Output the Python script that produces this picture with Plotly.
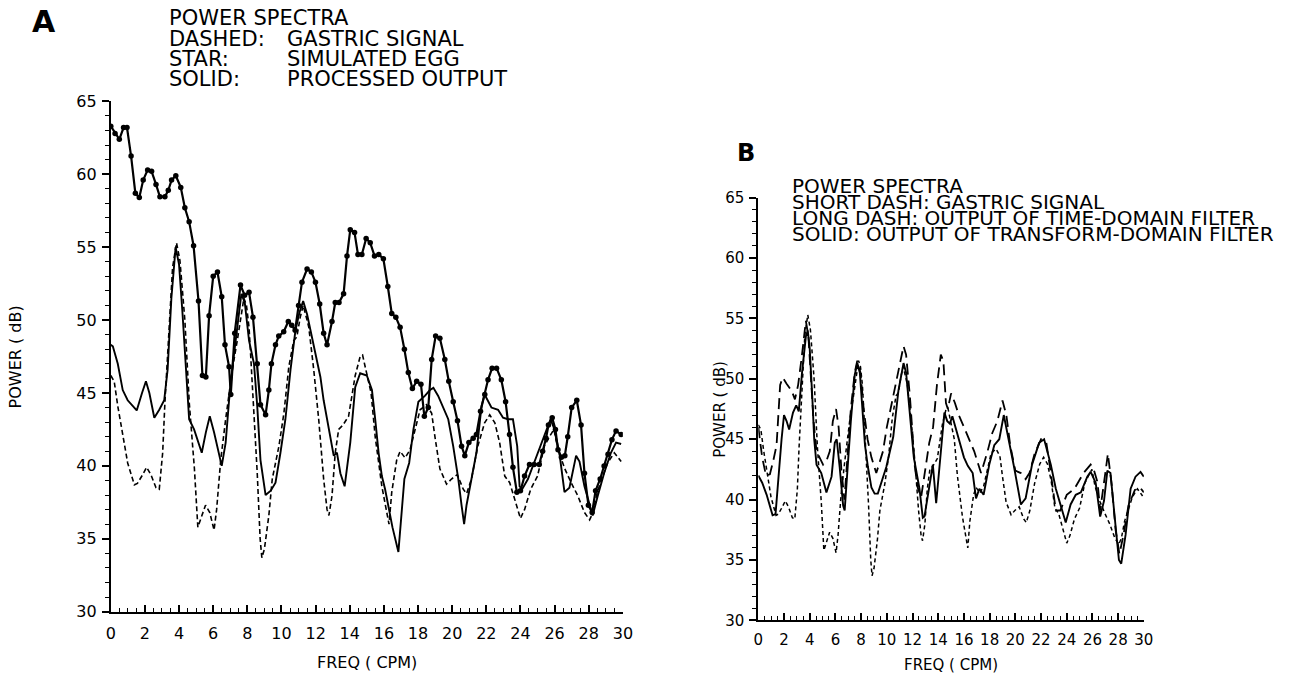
import plotly.graph_objects as go

W, H = 1315, 681

# ---------------- Panel A data ----------------
a_gastric_x = [0.0, 0.2, 0.41, 0.7, 0.99, 1.38, 1.56, 1.87, 2.1, 2.35, 2.65, 2.84, 3.04, 3.17, 3.42, 3.62,
               3.85, 4.05, 4.2, 4.34, 4.6, 4.9, 5.1, 5.3, 5.55, 5.8, 6.05, 6.2, 6.44, 6.73, 7.12, 7.41, 7.6,
               7.8, 7.95, 8.1, 8.19, 8.39, 8.58, 8.75, 8.85, 9.0, 9.26, 9.46, 9.85, 10.14, 10.43, 10.72, 10.9,
               11.1, 11.27, 11.5, 11.6, 11.89, 12.18, 12.47, 12.67, 12.78, 12.96, 13.15, 13.35, 13.6, 13.93,
               14.32, 14.61, 14.75, 14.9, 15.25, 15.49, 15.88, 16.17, 16.3, 16.46, 16.75, 16.95, 17.24, 17.53,
               17.82, 18.12, 18.5, 18.8, 18.99, 19.28, 19.67, 19.96, 20.3, 20.65, 20.85, 21.13, 21.5, 21.9,
               22.2, 22.5, 22.78, 23.08, 23.37, 23.7, 24.0, 24.24, 24.6, 25.0, 25.4, 25.7, 25.96, 26.2, 26.6,
               26.97, 27.36, 27.75, 28.05, 28.25, 28.5, 29.1, 29.5, 29.9]
a_gastric_y = [46.2, 45.8, 44.1, 42.0, 40.2, 38.7, 38.8, 39.4, 39.9, 39.4, 38.5, 38.4, 40.9, 44.3, 49.1, 53.6,
               55.3, 54.1, 52.0, 50.0, 44.3, 39.8, 35.8, 36.5, 37.3, 36.8, 35.6, 37.0, 40.4, 43.2, 46.6, 48.6, 50.0,
               51.5, 51.0, 49.5, 47.7, 43.6, 39.5, 35.0, 33.7, 34.3, 36.6, 39.1, 41.35, 43.6, 46.8, 48.6, 48.85,
               50.2, 51.0, 50.0, 49.5, 46.6, 43.2, 39.1, 37.0, 36.6, 37.95, 40.9, 42.5, 42.8, 43.4,
               46.2, 47.5, 47.6, 46.8, 45.0, 42.0, 38.6, 36.8, 36.0, 38.2, 40.4, 41.0, 40.55, 41.1,
               42.5, 43.85, 44.2, 43.6, 42.0, 39.8, 38.75, 39.1, 39.4, 38.4, 38.1, 39.1, 41.35, 42.95,
               43.5, 42.95, 41.6, 39.3, 38.85, 37.5, 36.4, 37.0, 38.4, 39.3, 41.35, 42.0, 42.5, 41.1, 39.8,
               38.85, 37.95, 36.8, 36.3, 36.8, 38.2, 40.2, 40.9, 40.3]

a_egg_x = [0.0, 0.25, 0.5, 0.75, 0.95, 1.19, 1.44, 1.67, 1.9, 2.16, 2.39, 2.65, 2.88, 3.17, 3.37, 3.56, 3.81,
           4.1, 4.34, 4.59, 4.85, 5.14, 5.37, 5.57, 5.76, 6.0, 6.25, 6.5, 6.69, 6.93, 7.03, 7.26, 7.6, 7.84,
           8.1, 8.33, 8.58, 8.77, 9.07, 9.26, 9.41, 9.65, 9.84, 10.13, 10.4, 10.6, 10.8, 11.0, 11.2, 11.5,
           11.75, 11.99, 12.24, 12.47, 12.67, 12.96, 13.15, 13.37, 13.64, 13.84, 14.03, 14.28, 14.48, 14.71,
           14.96, 15.2, 15.45, 15.7, 15.97, 16.23, 16.46, 16.7, 16.95, 17.2, 17.43, 17.67, 17.92, 18.17,
           18.37, 18.6, 18.8, 19.03, 19.28, 19.57, 19.8, 20.06, 20.31, 20.55, 20.74, 20.98, 21.23, 21.42,
           21.66, 21.91, 22.1, 22.34, 22.6, 22.88, 23.13, 23.36, 23.56, 23.79, 24.0, 24.24, 24.53, 24.8,
           25.1, 25.3, 25.5, 25.64, 25.86, 26.05, 26.2, 26.4, 26.6, 26.77, 27.0, 27.3, 27.55, 27.75, 27.98,
           28.2, 28.4, 28.67, 28.9, 29.13, 29.36, 29.6, 29.9]
a_egg_y = [63.3, 62.8, 62.4, 63.2, 63.2, 61.25, 58.7, 58.4, 59.6, 60.3, 60.2, 59.3, 58.45, 58.45, 58.9, 59.6, 59.9,
           59.1, 57.7, 56.75, 55.1, 51.3, 46.2, 46.1, 50.3, 53.0, 53.3, 51.6, 48.3, 46.8, 44.9, 49.1, 52.4, 51.7,
           51.9, 50.2, 47.0, 44.2, 43.5, 45.2, 47.0, 48.3, 48.9, 49.2, 49.9, 49.65, 49.3, 51.0, 52.6, 53.5,
           53.3, 52.6, 51.1, 49.1, 48.3, 49.9, 51.2, 51.2, 51.8, 54.4, 56.2, 56.0, 54.5, 54.5,
           55.6, 55.3, 54.4, 54.5, 54.2, 52.3, 50.45, 50.2, 49.5, 48.0, 46.4, 45.3, 45.8, 45.6,
           43.4, 44.0, 47.3, 48.9, 48.75, 47.3, 45.8, 44.4, 43.1, 41.35, 40.7, 41.6, 41.9, 42.15,
           43.75, 44.9, 45.9, 46.7, 46.7, 45.9, 44.4, 42.15, 39.9, 38.2, 38.3, 39.3, 40.1, 40.1,
           40.1, 41.0, 41.9, 42.8, 43.3, 42.5, 41.1, 40.6, 40.7, 42.0, 44.0, 44.5, 42.8, 39.5, 37.3,
           36.8, 38.3, 39.1, 40.0, 40.8, 41.8, 42.4, 42.15]

a_output_x = [0.0, 0.12, 0.41, 0.7, 0.99, 1.28, 1.52, 1.83, 2.06, 2.26, 2.55, 2.84, 3.13, 3.33, 3.55, 3.8, 4.0,
              4.2, 4.4, 4.59, 4.88, 5.18, 5.33, 5.57, 5.8, 6.05, 6.34, 6.5, 6.73, 6.93, 7.15, 7.41, 7.65, 7.85,
              8.1, 8.39, 8.58, 8.77, 9.07, 9.37, 9.65, 9.94, 10.23, 10.53, 10.82, 11.05, 11.27, 11.5, 11.75,
              11.99, 12.28, 12.47, 12.77, 13.06, 13.25, 13.45, 13.7, 14.03, 14.32, 14.61, 15.0, 15.3, 15.49,
              15.69, 15.88, 16.07, 16.27, 16.5, 16.85, 17.0, 17.2, 17.48, 17.73, 18.02, 18.4, 18.7, 18.9, 19.18,
              19.48, 19.77, 20.06, 20.36, 20.55, 20.7, 20.84, 21.13, 21.42, 21.72, 21.9, 22.3, 22.69, 22.98,
              23.27, 23.56, 23.81, 23.95, 24.1, 24.44, 24.73, 25.12, 25.5, 25.76, 25.96, 26.28, 26.58, 26.87,
              27.26, 27.46, 27.75, 28.04, 28.23, 28.53, 28.9, 29.3, 29.6, 29.9]
a_output_y = [48.3, 48.2, 47.0, 45.2, 44.5, 44.1, 43.8, 45.0, 45.8, 45.0, 43.3, 43.85, 44.5, 46.6, 51.5, 55.0, 53.8,
              50.5, 47.0, 43.2, 42.5, 41.35, 40.9, 42.3, 43.4, 42.3, 40.9, 40.0, 41.6, 44.5, 47.0, 49.5, 51.8, 51.2,
              48.6, 47.0, 44.1, 40.4, 38.0, 38.3, 38.85, 40.9, 43.2, 46.6, 49.3, 50.5, 51.3, 50.4, 49.0,
              47.7, 46.1, 44.5, 42.5, 40.7, 40.9, 39.5, 38.6, 41.6, 45.4, 46.35, 46.2, 45.2, 43.2,
              40.9, 39.3, 38.4, 37.2, 35.8, 34.1, 36.5, 39.1, 40.2, 42.5, 44.4, 44.8, 45.2, 45.35, 44.8,
              44.0, 43.2, 41.35, 39.1, 37.3, 36.0, 37.3, 39.1, 40.9, 44.1, 44.9, 44.0, 43.85, 43.3,
              43.2, 43.2, 41.35, 38.6, 38.4, 39.1, 40.0, 41.1, 42.3, 43.2, 42.6, 40.9, 38.2, 38.5,
              40.7, 40.3, 38.6, 37.3, 36.6, 37.95, 39.5, 40.9, 41.6, 41.5]

# ---------------- Panel B data ----------------
b_gastric_x = a_gastric_x
b_gastric_y = a_gastric_y

b_time_x = [0.0, 0.3, 0.6, 0.9, 1.16, 1.42, 1.7, 1.9, 2.2, 2.6, 2.85, 3.1, 3.4, 3.7, 3.9, 4.1, 4.3, 4.53, 5.04,
            5.3, 5.56, 5.8, 6.05, 6.25, 6.47, 6.7, 6.9, 7.2, 7.5, 7.7, 7.95, 8.2, 8.5, 8.8, 9.18, 9.7, 10.0,
            10.5, 11.0, 11.3, 11.5, 11.8, 12.16, 12.4, 12.67, 13.06, 13.3, 13.6, 13.9, 14.2, 14.4, 14.6, 14.75,
            15.0, 15.3, 15.6, 16.0, 16.3, 16.8, 17.33, 17.84, 18.2, 18.6, 19.0, 19.3, 19.6, 20.0, 20.43, 20.8,
            21.1, 21.5, 22.0, 22.4, 22.76, 23.15, 23.5, 24.0, 24.6, 25.3, 25.86, 26.1, 26.4, 26.6, 27.0, 27.2,
            27.5, 27.8, 28.1, 28.4, 28.8, 29.3, 29.7, 30.0]
b_time_y = [46.0, 43.5, 42.0, 42.1, 43.2, 44.5, 49.5, 50.1, 49.6, 49.0, 48.3, 49.5, 52.0, 54.8, 53.5, 50.0, 46.5,
            44.0, 42.9, 43.2, 44.0, 46.5, 47.5, 46.0, 42.4, 40.0, 43.0, 47.5, 50.5, 51.5, 50.5, 47.5, 45.0, 43.5,
            42.2, 44.0, 46.0, 48.5, 51.0, 52.7, 52.0, 48.5, 42.9, 41.0, 40.2, 42.9, 44.7, 46.0, 49.5, 52.0, 51.5,
            48.0, 47.5, 48.8, 48.0, 47.0, 46.0, 45.2, 44.0, 42.2, 44.0, 45.5, 46.5, 48.2, 47.0, 44.5, 42.4, 42.2,
            41.7, 42.2, 43.8, 45.0, 44.8, 42.2, 39.1, 39.1, 40.4, 40.9, 42.2, 42.9, 42.5, 41.4, 39.1, 42.2, 43.8,
            41.2, 37.5, 35.5, 37.0, 39.5, 40.8, 41.0, 40.6]

b_transform_x = [0.0, 0.3, 0.65, 1.11, 1.34, 1.6, 1.81, 2.0, 2.2, 2.4, 2.7, 2.95, 3.15, 3.4, 3.7, 3.85, 4.0, 4.2,
                 4.35, 4.53, 4.9, 5.3, 5.7, 5.95, 6.1, 6.33, 6.6, 6.72, 6.9, 7.2, 7.5, 7.7, 7.9, 8.1, 8.3, 8.53,
                 8.8, 9.05, 9.3, 9.96, 10.5, 10.9, 11.3, 11.5, 11.8, 12.1, 12.54, 12.8, 12.93, 13.3, 13.58, 13.84,
                 14.1, 14.48, 14.7, 14.9, 15.1, 15.4, 15.7, 16.0, 16.3, 16.68, 16.94, 17.2, 17.53, 17.97, 18.36,
                 18.75, 19.1, 19.4, 19.9, 20.43, 20.8, 21.3, 21.85, 22.24, 22.76, 23.15, 23.53, 23.92, 24.3, 24.7,
                 25.1, 25.6, 25.86, 26.25, 26.6, 26.9, 27.16, 27.4, 27.8, 28.06, 28.24, 28.58, 28.97, 29.35,
                 29.74, 30.0]
b_transform_y = [42.0, 41.4, 40.4, 38.7, 38.8, 42.5, 45.0, 47.0, 46.5, 45.8, 47.2, 47.8, 47.3, 50.5, 53.5, 54.0,
                 52.5, 48.5, 45.0, 42.9, 42.2, 40.6, 41.9, 44.7, 45.0, 42.7, 39.5, 39.1, 42.0, 46.5, 50.3, 51.3,
                 50.5, 47.5, 44.5, 42.7, 41.0, 40.5, 40.5, 42.7, 45.2, 49.0, 51.3, 50.5, 47.0, 43.5, 40.9, 38.5,
                 38.6, 40.9, 42.9, 39.7, 42.9, 47.2, 46.5, 46.3, 46.9, 45.8, 44.8, 43.5, 42.8, 42.2, 40.1, 40.9,
                 40.4, 42.9, 44.5, 45.0, 47.0, 45.5, 42.7, 39.6, 40.1, 42.9, 44.7, 45.0, 42.9, 40.9, 39.6, 38.1,
                 39.6, 40.4, 40.6, 41.9, 42.3, 41.4, 38.6, 39.9, 42.4, 42.2, 37.8, 35.0, 34.7, 37.1, 40.9, 41.9,
                 42.3, 41.9]

x_ticks = list(range(0, 31, 2))
y_ticks = [30, 35, 40, 45, 50, 55, 60, 65]

A_TEXT_LABELS = ["DASHED:", "STAR:", "SOLID:"]
A_TEXT_VALUES = ["GASTRIC SIGNAL", "SIMULATED EGG", "PROCESSED OUTPUT"]
B_TEXT_LINES = ["POWER SPECTRA", "SHORT DASH: GASTRIC SIGNAL",
                "LONG DASH: OUTPUT OF TIME-DOMAIN FILTER",
                "SOLID: OUTPUT OF TRANSFORM-DOMAIN FILTER"]

FONT = "DejaVu Sans"


def px(x):
    return x / W


def py(y):
    return 1 - y / H


fig = go.Figure()

# Panel A traces
fig.add_trace(go.Scatter(x=a_gastric_x, y=a_gastric_y, mode="lines", xaxis="x", yaxis="y",
                         line=dict(color="black", width=1.6, dash="5px,3px"), showlegend=False))
fig.add_trace(go.Scatter(x=a_output_x, y=a_output_y, mode="lines", xaxis="x", yaxis="y",
                         line=dict(color="black", width=1.9), showlegend=False))
fig.add_trace(go.Scatter(x=a_egg_x, y=a_egg_y, mode="lines+markers", xaxis="x", yaxis="y",
                         line=dict(color="black", width=2.2),
                         marker=dict(color="black", size=5.5, symbol="circle"), showlegend=False))

# Panel B traces
fig.add_trace(go.Scatter(x=b_gastric_x, y=b_gastric_y, mode="lines", xaxis="x2", yaxis="y2",
                         line=dict(color="black", width=1.5, dash="4px,3px"), showlegend=False))
fig.add_trace(go.Scatter(x=b_time_x, y=b_time_y, mode="lines", xaxis="x2", yaxis="y2",
                         line=dict(color="black", width=1.8, dash="11px,6px"), showlegend=False))
fig.add_trace(go.Scatter(x=b_transform_x, y=b_transform_y, mode="lines", xaxis="x2", yaxis="y2",
                         line=dict(color="black", width=1.9), showlegend=False))

# Panel geometry (pixels)
A_X0, A_X1, A_Y65, A_Y30 = 107, 625, 95, 620
B_X0, B_X1, B_Y65, B_Y30 = 762, 1152, 194, 629


def xaxis_style(x0, x1, anchor, fs, standoff):
    return dict(domain=[px(x0), px(x1)], range=[0, 30], anchor=anchor,
                tickmode="array", tickvals=x_ticks, ticktext=[str(v) for v in x_ticks],
                ticks="inside", ticklen=7, tickwidth=1.5, tickcolor="black",
                minor=dict(dtick=0.5, tick0=0, ticks="inside", ticklen=4, tickwidth=1.2, tickcolor="black"),
                showline=True, linecolor="black", linewidth=2, showgrid=False, zeroline=False,
                tickfont=dict(family=FONT, size=fs, color="black"), ticklabelstandoff=standoff,
                fixedrange=True)


def yaxis_style(y65, y30, anchor, fs):
    return dict(domain=[py(y30), py(y65)], range=[30, 65], anchor=anchor,
                tickmode="array", tickvals=y_ticks, ticktext=[str(v) for v in y_ticks],
                ticks="outside", ticklen=7, tickwidth=1.5, tickcolor="black",
                minor=dict(dtick=1, tick0=30, ticks="outside", ticklen=4, tickwidth=1.2, tickcolor="black"),
                showline=True, linecolor="black", linewidth=2, showgrid=False, zeroline=False,
                tickfont=dict(family=FONT, size=fs, color="black"), ticklabelstandoff=2,
                fixedrange=True)


annotations = []


def ann(text, x, y, size, xanchor="left", yanchor="middle", bold=False, angle=0):
    t = f"<b>{text}</b>" if bold else text
    annotations.append(dict(text=t, x=px(x), y=py(y), xref="paper", yref="paper",
                            xanchor=xanchor, yanchor=yanchor, showarrow=False, textangle=angle,
                            font=dict(family=FONT, size=size, color="black")))


# Panel A texts
ann("A", 39, 13, 30, xanchor="center", bold=True)
ann("POWER SPECTRA", 164, 9, 21)
for i, (lab, val) in enumerate(zip(A_TEXT_LABELS, A_TEXT_VALUES)):
    yy = 30.5 + i * 21
    ann(lab, 164, yy, 21)
    ann(val, 283, yy, 21)
ann("FREQ ( CPM)", (A_X0 + A_X1) / 2, 672, 16, xanchor="center")
ann("POWER ( dB)", 11, (A_Y65 + A_Y30) / 2, 16, xanchor="center", angle=-90)

# Panel B texts
ann("B", 750, 148, 24, xanchor="center", bold=True)
for i, line in enumerate(B_TEXT_LINES):
    ann(line, 794, 182 + i * 16.6, 20)
ann("FREQ ( CPM)", (B_X0 + B_X1) / 2, 675, 15, xanchor="center")
ann("POWER ( dB)", 723, (B_Y65 + B_Y30) / 2, 15, xanchor="center", angle=-90)

fig.update_layout(
    width=W, height=H, autosize=False,
    margin=dict(l=0, r=0, t=0, b=0, pad=0),
    paper_bgcolor="white", plot_bgcolor="white",
    showlegend=False,
    xaxis=xaxis_style(A_X0, A_X1, "y", 16, 6),
    yaxis=yaxis_style(A_Y65, A_Y30, "x", 16),
    xaxis2=xaxis_style(B_X0, B_X1, "y2", 15, 5),
    yaxis2=yaxis_style(B_Y65, B_Y30, "x2", 15),
    annotations=annotations,
)

fig.write_html("out.html", config={"displayModeBar": False})
